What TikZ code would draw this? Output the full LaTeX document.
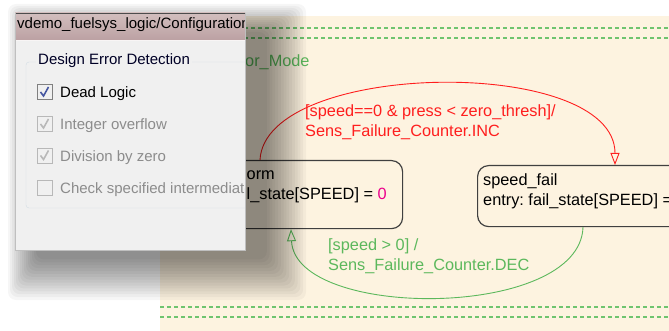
\documentclass[tikz,border=0pt]{standalone}
\usepackage{fontspec}
\setmainfont{Liberation Sans}
\usetikzlibrary{positioning}
\usetikzlibrary{arrows.meta}
\usetikzlibrary{calc}
\frenchspacing

\definecolor{chartbg}{HTML}{FDF3E0}
\definecolor{dashgreen}{HTML}{6FC46F}
\definecolor{labelgreen}{HTML}{5CB85C}
\definecolor{labelred}{HTML}{FF1E1E}
\definecolor{dlgbody}{HTML}{F0F0F0}
\definecolor{dlgframe}{HTML}{D3DDE4}
\definecolor{titletop}{HTML}{D2BEBE}
\definecolor{titlebot}{HTML}{BBA0A2}
\definecolor{greytext}{HTML}{8C8C8C}
\definecolor{tickblue}{HTML}{4556A0}

\newcommand{\chartfont}{\fontsize{16.3}{20}\selectfont}
\newcommand{\dlgfont}{\fontsize{15}{18}\selectfont}

\begin{document}
\begin{tikzpicture}[x=1pt, y=-1pt,
    chartstate/.style={draw=black!75, line width=1.2pt, rounded corners=11pt, fill=chartbg, anchor=north west, inner sep=0pt},
    statetext/.style={anchor=base west, align=left, inner sep=0pt, font=\chartfont, xshift=6pt, yshift=-40pt},
    guard/.style={anchor=base west, align=left, inner sep=0pt, font=\chartfont},
    trans/.style={line width=0.9pt, -{Triangle[open, length=12pt, width=9pt]}},
    border/.style={dashgreen, line width=1.2pt, dash pattern=on 4pt off 3pt},
    cbox/.style={draw=#1, fill=white!94!black, minimum size=15pt, inner sep=0pt},
    tick/.style={#1, line width=1.6pt},
    option/.style={anchor=base west, inner sep=0pt, font=\dlgfont}
    ]
\clip (0,0) rectangle (669,331);
\fill[white] (0,0) rectangle (669,331);

% chart
\fill[chartbg] (160,16) rectangle (669,331);
\draw[border] (160,28) -- (669,28);
\draw[border] (160,38) -- (669,38);
\draw[border] (160,307) -- (669,307);
\draw[border] (160,317) -- (669,317);
\node[anchor=base west, inner sep=0pt, font=\chartfont, text=labelgreen] (mode) at (245,67) {or\_Mode};

\node[chartstate, minimum width=224pt, minimum height=68pt,
      label={[statetext]north west:speed\_norm\\entry: fail\_state[SPEED] = \textcolor{magenta}{0}}]
      (norm) at (178,160) {};
\node[chartstate, minimum width=250pt, minimum height=61pt,
      label={[statetext]north west:speed\_fail\\entry: fail\_state[SPEED] = \textcolor{magenta}{1}}]
      (fail) at (477,165) {};

\draw[trans, labelred] ([xshift=82pt]norm.north west) .. controls (265,60) and (615,55) .. ([xshift=138pt]fail.north west);
\draw[trans, labelgreen] ([xshift=106pt]fail.south west) .. controls (580,320) and (295,320) .. ([xshift=113pt]norm.south west);

\node[guard, text=labelred] (inc) at (305,137) {[speed==0 \& press < zero\_thresh]/\\Sens\_Failure\_Counter.INC};
\node[guard, text=labelgreen] (dec) at (328,270) {[speed > 0] /\\Sens\_Failure\_Counter.DEC};

% shadow of the dialog
\foreach \i in {0,...,14}
    \fill[black, opacity=0.035, rounded corners=8pt] (8+\i*2, 4+\i*2) rectangle (306-\i*2.8, 300-\i*2.9);

% dialog
\begin{scope}
\clip (15,13) rectangle (245,250);
\fill[dlgbody] (15,41) rectangle (245,250);
\shade[top color=titletop, bottom color=titlebot] (15,13) rectangle (245,41);
\draw[black!70] (15,13.5) -- (245,13.5);
\draw[white!85!titletop] (15,40.5) -- (245,40.5);
\node[anchor=base west, inner sep=0pt, font=\dlgfont] (title) at (17,29) {vdemo\_fuelsys\_logic/Configuration.};
\draw[dlgframe, rounded corners=3pt] (26,62) rectangle (270,208);
\node[anchor=base west, inner xsep=2pt, inner ysep=1pt, fill=dlgbody, font=\dlgfont, text=black!85!blue] (group) at (36,65) {Design Error Detection};

\node[cbox=black!50] (dead) at (44.5,92) {};
\node[cbox=black!28] (intov) at (44.5,124) {};
\node[cbox=black!28] (divz) at (44.5,155.5) {};
\node[cbox=black!28] (inter) at (44.5,188) {};
\draw[tick=tickblue] ($(dead)+(-4,0)$) -- ($(dead)+(-1,4)$) -- ($(dead)+(4,-5)$);
\draw[tick=black!28] ($(intov)+(-4,0)$) -- ($(intov)+(-1,4)$) -- ($(intov)+(4,-5)$);
\draw[tick=black!28] ($(divz)+(-4,0)$) -- ($(divz)+(-1,4)$) -- ($(divz)+(4,-5)$);

\node[option] (deadtxt) at (60,98) {Dead Logic};
\node[option, text=greytext] (intovtxt) at (60,130) {Integer overflow};
\node[option, text=greytext] (divztxt) at (60,162) {Division by zero};
\node[option, text=greytext] (intertxt) at (60,194) {Check specified intermediate};
\end{scope}
\draw[black!25] (245,13) -- (245,250) -- (15,250) -- (15,13);
\end{tikzpicture}
\end{document}
